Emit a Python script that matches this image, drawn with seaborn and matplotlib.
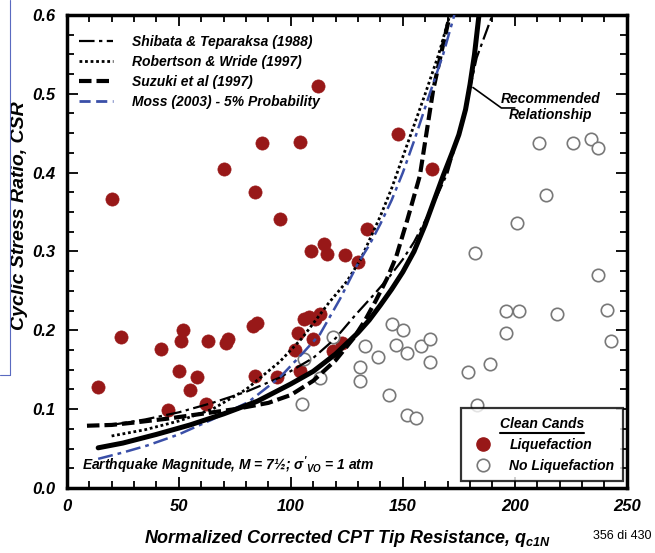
import numpy as np
import matplotlib
matplotlib.use("Agg")
import matplotlib.pyplot as plt
from matplotlib.lines import Line2D
from matplotlib.ticker import MultipleLocator, FormatStrFormatter
import seaborn as sns

# case histories (qc1N, CSR)
liq_q = [14, 20, 24, 42, 45, 50, 51, 52, 55, 58, 62, 63, 70, 71, 72, 83, 84, 85, 84, 87,
         94, 95, 102, 103, 104, 104, 106, 108, 109, 110, 111, 112, 113, 115, 116, 119, 123,
         124, 130, 134, 148, 163]
liq_csr = [0.128, 0.366, 0.192, 0.176, 0.099, 0.149, 0.187, 0.200, 0.124, 0.141, 0.107, 0.187,
           0.404, 0.184, 0.189, 0.206, 0.376, 0.209, 0.142, 0.437, 0.141, 0.341, 0.175, 0.196,
           0.148, 0.439, 0.214, 0.217, 0.300, 0.189, 0.214, 0.510, 0.221, 0.309, 0.297, 0.174,
           0.184, 0.295, 0.287, 0.329, 0.449, 0.404]

noliq_q = [105, 106, 113, 119, 131, 131, 133, 139, 144, 145, 147, 150, 152, 152, 156, 158, 162,
           162, 179, 182, 183, 189, 196, 196, 201, 202, 211, 214, 219, 226, 234, 237, 237, 241, 243]
noliq_csr = [0.107, 0.164, 0.139, 0.192, 0.136, 0.153, 0.180, 0.166, 0.118, 0.208, 0.181, 0.201,
             0.092, 0.171, 0.089, 0.180, 0.189, 0.160, 0.147, 0.298, 0.105, 0.157, 0.197, 0.224,
             0.336, 0.224, 0.438, 0.371, 0.221, 0.438, 0.443, 0.431, 0.270, 0.226, 0.187]

# curves
shibata_q = [20, 35, 50, 65, 80, 95, 110, 120, 129, 137, 144, 150, 155, 162, 170, 177, 183, 190]
shibata_csr = [0.080, 0.087, 0.096, 0.108, 0.122, 0.140, 0.165, 0.190, 0.220, 0.245, 0.268,
               0.290, 0.312, 0.350, 0.400, 0.469, 0.546, 0.600]

robertson_q = [20, 35, 50, 65, 80, 95, 105, 117, 125, 131, 140, 145, 150, 155, 160, 166, 171]
robertson_csr = [0.066, 0.074, 0.085, 0.100, 0.125, 0.160, 0.190, 0.235, 0.262, 0.289, 0.345,
                 0.380, 0.420, 0.460, 0.500, 0.550, 0.600]

suzuki_q = [9, 20, 30, 45, 60, 75, 90, 100, 110, 120, 128, 133, 138, 143, 147, 152, 157.6,
            163.5, 167, 171]
suzuki_csr = [0.079, 0.080, 0.083, 0.088, 0.094, 0.100, 0.108, 0.118, 0.136, 0.162, 0.190,
              0.212, 0.238, 0.266, 0.293, 0.340, 0.396, 0.504, 0.550, 0.600]

moss_q = [14, 25, 36, 50, 65, 81, 95, 105, 113, 122, 130, 135, 140, 145, 150, 155, 162, 168, 173]
moss_csr = [0.037, 0.045, 0.054, 0.068, 0.087, 0.109, 0.140, 0.170, 0.195, 0.240, 0.285,
            0.308, 0.335, 0.365, 0.400, 0.440, 0.500, 0.550, 0.600]

rec_q = [14, 25, 40, 55, 70, 85, 100, 110, 120, 130, 135, 140, 145, 150, 155, 160, 164, 168,
         172, 175, 178, 180, 182, 184]
rec_csr = [0.051, 0.057, 0.068, 0.080, 0.094, 0.110, 0.132, 0.148, 0.170, 0.197, 0.213, 0.232,
           0.252, 0.274, 0.300, 0.334, 0.365, 0.396, 0.425, 0.448, 0.480, 0.512, 0.550, 0.600]

sns.set_style("ticks")
plt.rcParams['font.family'] = ['Liberation Sans', 'DejaVu Sans']
plt.rcParams['font.weight'] = 'bold'
plt.rcParams['font.style'] = 'italic'
plt.rcParams['axes.labelweight'] = 'bold'
plt.rcParams['text.color'] = 'black'
plt.rcParams['axes.labelcolor'] = 'black'
plt.rcParams['xtick.color'] = 'black'
plt.rcParams['ytick.color'] = 'black'
plt.rcParams['axes.edgecolor'] = 'black'
plt.rcParams['mathtext.fontset'] = 'custom'
plt.rcParams['mathtext.it'] = 'Liberation Sans:bold:italic'
plt.rcParams['mathtext.rm'] = 'Liberation Sans:bold:italic'

fig = plt.figure(figsize=(6.55, 5.53), dpi=100)
ax = fig.add_axes([0.102, 0.1175, 0.855, 0.8555])

red = '#981818'
sns.scatterplot(x=liq_q, y=liq_csr, ax=ax, s=90, color=red, edgecolor=red, linewidth=0.5, zorder=3)
sns.scatterplot(x=noliq_q, y=noliq_csr, ax=ax, s=80, facecolor='white', edgecolor='#787878',
                linewidth=1.2, zorder=3)

sns.lineplot(x=shibata_q, y=shibata_csr, ax=ax, color='black', lw=1.6,
             linestyle=(0, (7, 2, 1.5, 2)), estimator=None, sort=False, zorder=4)
sns.lineplot(x=robertson_q, y=robertson_csr, ax=ax, color='black', lw=2,
             linestyle=(0, (1, 1)), estimator=None, sort=False, zorder=4)
sns.lineplot(x=suzuki_q, y=suzuki_csr, ax=ax, color='black', lw=3,
             linestyle=(0, (3, 1.2)), estimator=None, sort=False, zorder=4)
sns.lineplot(x=moss_q, y=moss_csr, ax=ax, color='#3a4fa8', lw=1.8,
             linestyle=(0, (6, 2, 1.5, 2)), estimator=None, sort=False, zorder=4)
sns.lineplot(x=rec_q, y=rec_csr, ax=ax, color='black', lw=3.6, estimator=None, sort=False, zorder=5)

ax.set_xlim(0, 250)
ax.set_ylim(0, 0.6)
ax.xaxis.set_major_locator(MultipleLocator(50))
ax.xaxis.set_minor_locator(MultipleLocator(10))
ax.yaxis.set_major_locator(MultipleLocator(0.1))
ax.yaxis.set_minor_locator(MultipleLocator(0.025))
ax.yaxis.set_major_formatter(FormatStrFormatter('%.1f'))
ax.tick_params(which='both', direction='in', top=True, right=True, width=1.3)
ax.tick_params(which='major', length=8, labelsize=12, pad=8)
ax.tick_params(which='minor', length=5)
for sp in ax.spines.values():
    sp.set_linewidth(2.5)

ax.set_xlabel("Normalized Corrected CPT Tip Resistance, $q_{c1N}$", fontsize=13, labelpad=10)
ax.set_ylabel("Cyclic Stress Ratio, CSR", fontsize=14)
ax.yaxis.set_label_coords(-0.07, 0.575)

line_handles = [
    Line2D([], [], color='black', lw=1.6, linestyle=(0, (7, 2, 1.5, 2))),
    Line2D([], [], color='black', lw=2, linestyle=(0, (1, 1))),
    Line2D([], [], color='black', lw=3, linestyle=(0, (3, 1.2))),
    Line2D([], [], color='#3a4fa8', lw=2, linestyle=(0, (4, 2))),
]
leg1 = ax.legend(line_handles, ["Shibata & Teparaksa (1988)", "Robertson & Wride (1997)",
                                "Suzuki et al (1997)", "Moss (2003) - 5% Probability"],
                 loc='upper left', bbox_to_anchor=(0.0, 0.985), frameon=False,
                 fontsize=10, handlelength=2.4, labelspacing=0.45, handletextpad=1.4)
ax.add_artist(leg1)

pt_handles = [
    Line2D([], [], marker='o', ls='', ms=9.5, color=red),
    Line2D([], [], marker='o', ls='', ms=9, mfc='white', mec='#787878', mew=1.2),
]
leg2 = ax.legend(pt_handles, ["Liquefaction", "No Liquefaction"], loc='lower right',
                 bbox_to_anchor=(0.993, 0.015), borderaxespad=0, frameon=True, fancybox=False,
                 fontsize=10, title="Clean Cands", title_fontsize=10, borderpad=0.6,
                 handletextpad=0.9, labelspacing=0.5)
leg2.get_frame().set_edgecolor('black')
leg2.get_frame().set_linewidth(1.6)
leg2.get_title().set_fontweight('bold')

# underline under the legend title
fig.canvas.draw()
tb = leg2.get_title().get_window_extent().transformed(ax.transAxes.inverted())
ax.plot([tb.x0, tb.x1], [tb.y0 - 0.004, tb.y0 - 0.004], transform=ax.transAxes,
        color='black', lw=1.5, zorder=7, clip_on=False)

ax.text(7, 0.029, "Earthquake Magnitude, M = 7½; $\\sigma'_{VO}$ = 1 atm", fontsize=10,
        ha='left', va='center')

# leader for the recommended curve
ax.plot([181.3, 194, 200], [0.508, 0.482, 0.482], color='black', lw=1.2, zorder=6)
ax.text(216, 0.483, "Recommended\nRelationship", fontsize=10, ha='center', va='center',
        linespacing=1.15)

fig.text(0.995, 0.02, "356 di 430", fontsize=9, ha='right', va='bottom',
         fontweight='normal', fontstyle='normal', family='Liberation Sans')

# slide frame remnant at the left edge
fig.add_artist(Line2D([10 / 655, 10 / 655], [1 - 375 / 553, 1], color='#5a6ac0', lw=0.8))
fig.add_artist(Line2D([0, 10 / 655], [1 - 375 / 553, 1 - 375 / 553], color='#5a6ac0', lw=0.8))

fig.savefig("out.png", dpi=100)
